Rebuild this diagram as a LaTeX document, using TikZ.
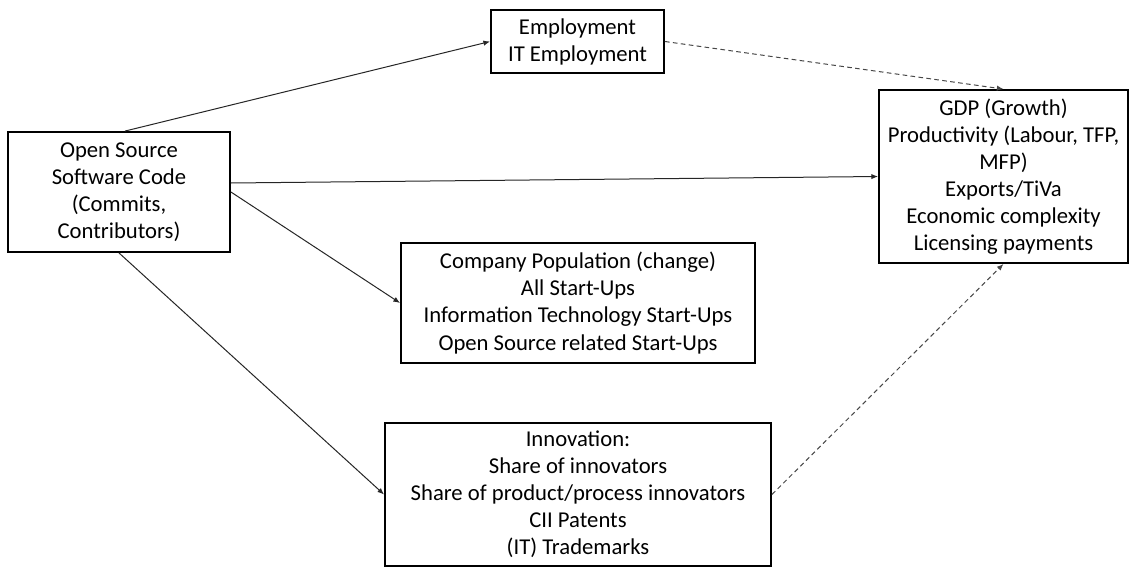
\documentclass[tikz,border=0pt]{standalone}
\usepackage{fontspec}
\setmainfont{Carlito}
\usetikzlibrary{arrows.meta}

\tikzset{
  factor/.style={draw=black,line width=1.4pt,align=center,inner sep=2pt,
    font=\fontsize{17}{20.3}\selectfont},
  link/.style={-{Latex[length=5pt,width=4pt]},line width=0.75pt,draw=black!85},
  maybe/.style={link,dash pattern=on 3.5pt off 2.5pt,draw=black!72}
}

\begin{document}
\begin{tikzpicture}[x=0.75pt,y=-0.75pt]
  \useasboundingbox (0,0) rectangle (1135,567);
  % boxes
  \node[factor,minimum width=166.5pt,minimum height=90pt] (src) at (119,192)
    {Open Source\\Software Code\\(Commits,\\Contributors)};
  \node[factor,minimum width=129.75pt,minimum height=47.25pt] (emp) at (577.5,41.5)
    {Employment\\IT Employment};
  \node[factor,minimum width=186.75pt,minimum height=129.75pt] (gdp) at (1003.5,176.5)
    {GDP (Growth)\\Productivity (Labour, TFP,\\MFP)\\Exports/TiVa\\Economic complexity\\Licensing payments};
  \node[factor,minimum width=265.5pt,minimum height=90pt] (comp) at (578,303)
    {Company Population (change)\\All Start-Ups\\Information Technology Start-Ups\\Open Source related Start-Ups};
  \node[factor,minimum width=289.5pt,minimum height=107.25pt] (innov) at (578,494.5)
    {Innovation:\\Share of innovators\\Share of product/process innovators\\CII Patents\\(IT) Trademarks};
  % effects
  \draw[link] ([xshift=4.5pt]src.north) -- (emp.west);
  \draw[link] ([yshift=6.75pt]src.east) -- (gdp.west);
  \draw[link] (src.east) -- (comp.west);
  \draw[link] (src.south) -- (innov.west);
  \draw[maybe] (emp.east) -- (gdp.north);
  \draw[maybe] (innov.east) -- (gdp.south);
\end{tikzpicture}
\end{document}
